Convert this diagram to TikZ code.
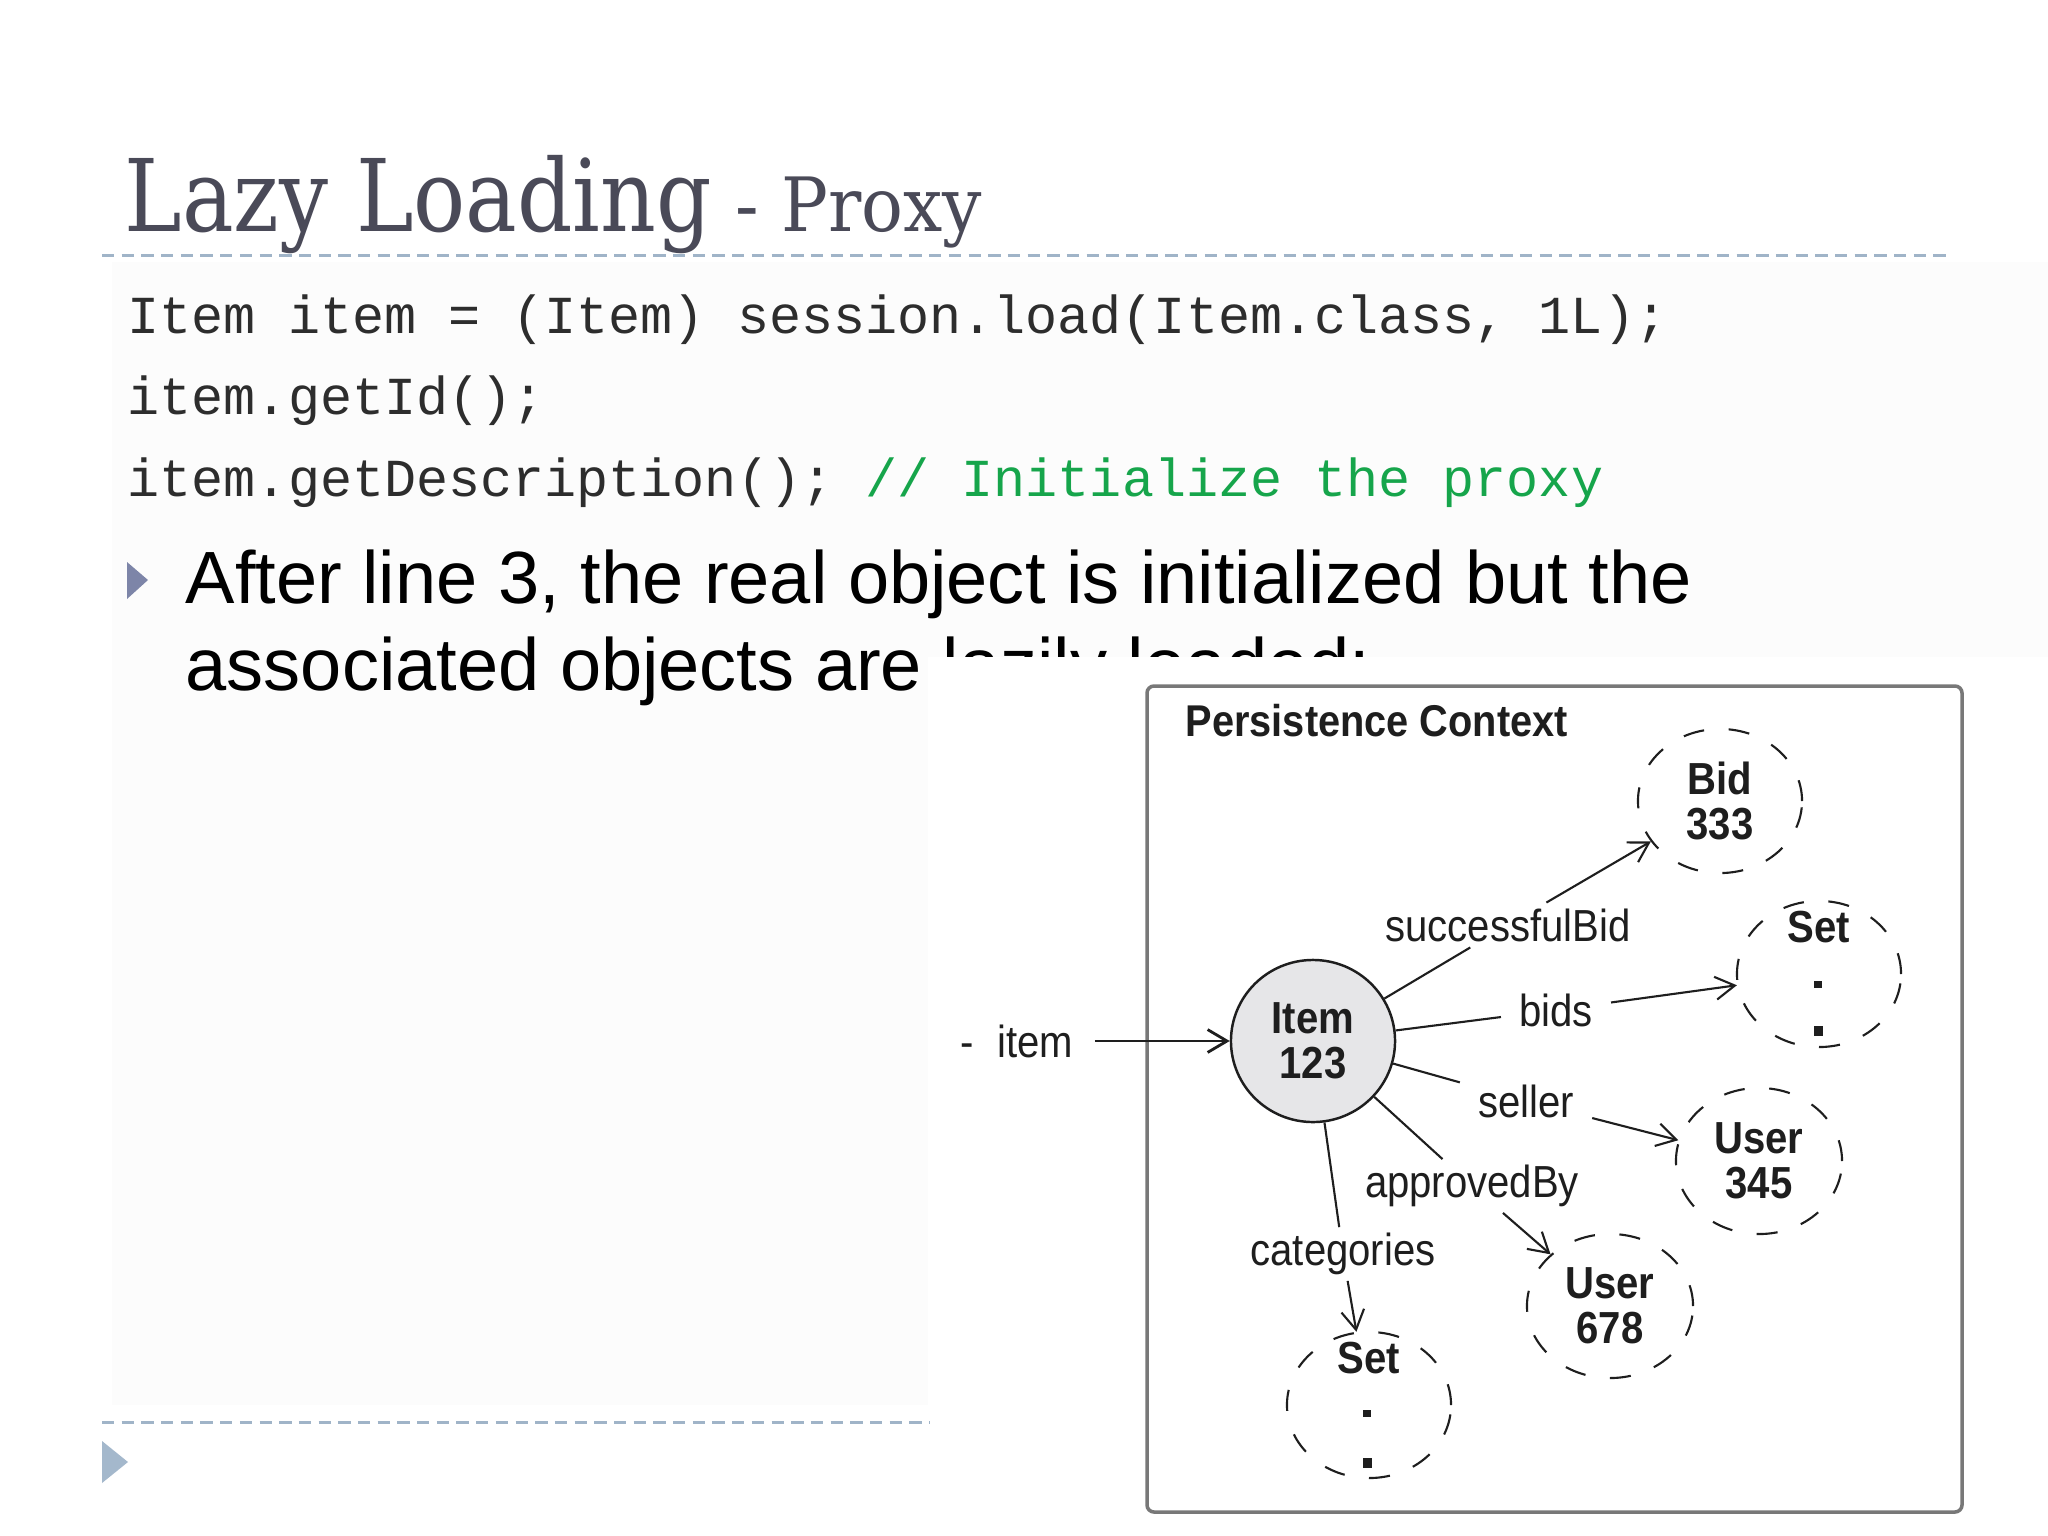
\documentclass[tikz,border=0pt]{standalone}
\usepackage{fontspec}
\setmainfont{Liberation Sans}
\newfontfamily\titlefont{DejaVu Serif}
\newfontfamily\codefont{Liberation Mono}
\usetikzlibrary{shapes.geometric,arrows.meta}
\definecolor{titlec}{RGB}{74,74,88}
\definecolor{rulec}{RGB}{160,180,200}
\definecolor{bulc}{RGB}{125,133,168}
\definecolor{bultwo}{RGB}{164,184,204}
\definecolor{greenc}{RGB}{22,165,75}
\definecolor{boxc}{RGB}{120,120,120}
\definecolor{inkc}{RGB}{30,30,30}
\definecolor{codec}{RGB}{45,45,45}
\definecolor{itemfill}{RGB}{230,230,232}
\definecolor{bgc}{RGB}{252,252,252}
\newcommand{\tx}[1]{\scalebox{1}[1.12]{#1}}
\tikzset{
 obj/.style={ellipse, inner sep=0pt, align=center, font=\bfseries\fontsize{11.4}{12.8}\selectfont, text=inkc},
 itemnode/.style={obj, draw=inkc, fill=itemfill, line width=0.7pt, minimum width=1.64cm, minimum height=1.62cm},
 lazyobj/.style={obj, draw=inkc, line width=0.6pt, dash pattern=on 6pt off 7pt, minimum width=1.64cm, minimum height=1.46cm},
 lbl/.style={inner xsep=5pt, inner ysep=1.5pt, font=\fontsize{11.4}{12.8}\selectfont, text=inkc},
 conn/.style={draw=inkc, line width=0.6pt},
 connarr/.style={conn, -{Straight Barb[length=5.5pt,width=6.5pt]}},
 codeline/.style={anchor=base west, inner sep=0pt, font=\codefont\fontsize{15.2}{18}\selectfont, text=codec},
 bodyline/.style={anchor=base west, inner sep=0pt, font=\fontsize{21.05}{25}\selectfont, text=black},
 rulestyle/.style={rulec, line width=0.85pt, dash pattern=on 3.5pt off 2.1pt},
}
\begin{document}
\begin{tikzpicture}[x=0.01cm,y=-0.01cm]
\useasboundingbox (0,0) rectangle (2048,1536);
\fill[white] (0,0) rectangle (2048,1536);
\fill[bgc] (112,262) rectangle (2048,1405);
% title
\node[anchor=base west, inner sep=0pt, text=titlec, font=\titlefont\fontsize{28.5}{30}\selectfont] (title) at (124,231) {\scalebox{0.865}[1]{Lazy Loading}};
\node[anchor=base west, inner sep=0pt, text=titlec, font=\titlefont\fontsize{21.3}{24}\selectfont] (sub) at (735,231) {\scalebox{0.93}[1]{- Proxy}};
\draw[rulestyle] (102,255) -- (1946,255);
% code
\node[codeline] (c1) at (127,333) {Item item = (Item) session.load(Item.class, 1L);};
\node[codeline] (c2) at (127,414) {item.getId();};
\node[codeline] (c3) at (127,496) {item.getDescription(); \textcolor{greenc}{// Initialize the proxy}};
% bullet
\fill[bulc] (127,562) -- (148,580) -- (127,599) -- cycle;
\node[bodyline] (b1) at (185,603) {After line 3, the real object is initialized but the};
\node[bodyline] (b2) at (185,690) {associated objects are lazily loaded:};
% diagram cover
\fill[white] (928,657) rectangle (2048,1536);
\draw[rulestyle] (102,1422) -- (930,1422);
\fill[bultwo] (102,1441) -- (128,1462) -- (102,1483) -- cycle;
% box
\draw[boxc, line width=1pt, rounded corners=2pt] (1147,686) rectangle (1962,1512);
\node[anchor=base west, inner sep=0pt, font=\bfseries\fontsize{11.3}{13}\selectfont, text=inkc] (pc) at (1185,736) {\tx{Persistence Context}};
% objects
\node[itemnode] (item) at (1313,1041) {\tx{Item}\\\tx{123}};
\node[lazyobj, minimum height=1.44cm] (bid) at (1720,801) {\tx{Bid}\\\tx{333}};
\node[lazyobj] (setb) at (1819,974) {};
\node[obj] (setbl) at (1819,927) {\tx{Set}};
\fill[inkc] (1814,981) rectangle (1822,988);
\fill[inkc] (1814,1026) rectangle (1823,1036);
\node[lazyobj, minimum width=1.66cm] (u345) at (1759,1161) {\tx{User}\\\tx{345}};
\node[lazyobj, minimum width=1.66cm, minimum height=1.44cm] (u678) at (1610,1306) {\tx{User}\\\tx{678}};
\node[lazyobj] (setc) at (1369,1405) {};
\node[obj] (setcl) at (1369,1358) {\tx{Set}};
\fill[inkc] (1363,1410) rectangle (1371,1417);
\fill[inkc] (1363,1458) rectangle (1372,1468);
% labels
\node[lbl] (lsb) at (1508,925) {\tx{successfulBid}};
\node[lbl] (lbids) at (1556,1010) {\tx{bids}};
\node[lbl] (lsel) at (1526,1101) {\tx{seller}};
\node[lbl] (lapp) at (1472,1186) {\tx{approvedBy}};
\node[lbl] (lcat) at (1343,1254) {\tx{categories}};
\node[lbl, inner xsep=6pt] (litem) at (1017,1041) {\tx{-\hspace{0.3em} item}};
% connectors
\draw[conn] (item) -- (lsb);
\draw[connarr] (lsb) -- (bid);
\draw[conn] (item) -- (lbids);
\draw[connarr] (lbids) -- (setb);
\draw[conn] (item) -- (lsel);
\draw[connarr] (lsel) -- (u345);
\draw[conn] (item) -- (lapp);
\draw[connarr] (lapp) -- (u678);
\draw[conn] (item) -- (lcat);
\draw[connarr] (lcat) -- (setc);
\draw[connarr, line width=0.8pt] (litem) -- (item);
\end{tikzpicture}
\end{document}
